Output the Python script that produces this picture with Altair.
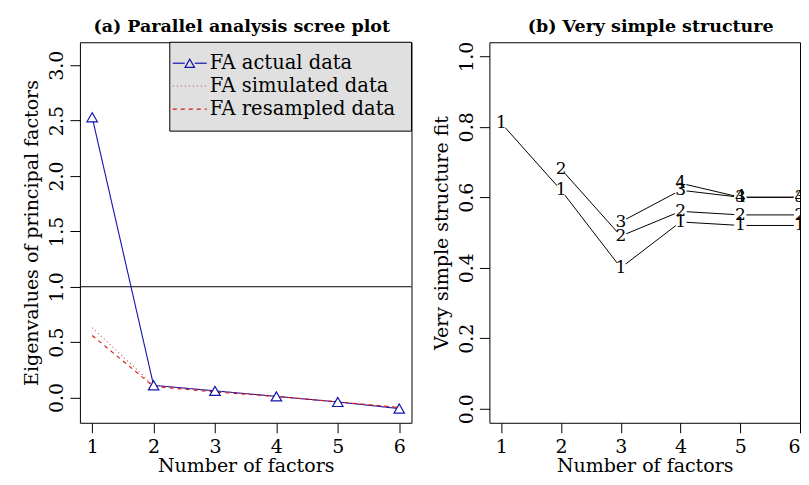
import altair as alt
import pandas as pd

# ---------------- data ----------------
factors = [1, 2, 3, 4, 5, 6]
fa_actual = [2.53, 0.11, 0.06, 0.01, -0.04, -0.10]
fa_simulated = [0.63, 0.11, 0.06, 0.01, -0.04, -0.09]
fa_resampled = [0.56, 0.10, 0.05, 0.01, -0.04, -0.09]
series_names = ["FA actual data", "FA simulated data", "FA resampled data"]
kaiser_line = [1.0]

left_y_ticks = [0.0, 0.5, 1.0, 1.5, 2.0, 2.5, 3.0]
right_y_ticks = [0.0, 0.2, 0.4, 0.6, 0.8, 1.0]

vss_c1 = [0.81, 0.62, 0.40, 0.53, 0.52, 0.52]
vss_c2 = [0.68, 0.49, 0.56, 0.55, 0.55]
vss_c3 = [0.53, 0.62, 0.60, 0.60]
vss_c4 = [0.64, 0.60, 0.60]
vss_labels = ["1", "2", "3", "4"]

# ---------------- styling ----------------
FONT = "DejaVu Serif"
BLUE = "#1414b0"
RED1 = "#e0505a"
RED2 = "#d41414"
SERIES_COLORS = [BLUE, RED1, RED2]
SERIES_DASH = [[1, 0], [1, 3], [4, 4]]

fa_df = pd.DataFrame({
    "factor": factors * 3,
    "value": fa_actual + fa_simulated + fa_resampled,
    "series": [s for s in series_names for _ in factors],
})
act_df = pd.DataFrame({"factor": factors, "value": fa_actual})
rule_df = pd.DataFrame({"y": kaiser_line})

vss_series = [vss_c1, vss_c2, vss_c3, vss_c4]
rows = []
for lab, vals in zip(vss_labels, vss_series):
    start = int(lab)
    for i, v in enumerate(vals):
        rows.append({"factor": start + i, "fit": v, "complexity": lab})
vss_df = pd.DataFrame(rows)

x_scale_l = alt.Scale(domain=[0.8, 6.2], nice=False, zero=False)
y_scale_l = alt.Scale(domain=[-0.228, 3.207], nice=False, zero=False)
# right panel is cut at the right edge of the page in the reference
x_scale_r = alt.Scale(domain=[0.8, 6.0], nice=False, zero=False)
y_scale_r = alt.Scale(domain=[-0.04, 1.04], nice=False, zero=False)


def x_axis(flush=False):
    return alt.Axis(values=factors, format="d", title="Number of factors",
                    labelPadding=5, titlePadding=0, labelFlush=flush)


def y_axis(vals, title):
    return alt.Axis(values=vals, format=".1f", title=title, labelAngle=-90,
                    labelAlign="center", labelBaseline="bottom",
                    labelPadding=3, titlePadding=6)


lines = alt.Chart(fa_df).mark_line(strokeWidth=1.1).encode(
    x=alt.X("factor:Q", scale=x_scale_l, axis=x_axis()),
    y=alt.Y("value:Q", scale=y_scale_l,
            axis=y_axis(left_y_ticks, "Eigenvalues of principal factors")),
    color=alt.Color("series:N", scale=alt.Scale(domain=series_names, range=SERIES_COLORS),
                    legend=None),
    strokeDash=alt.StrokeDash("series:N", scale=alt.Scale(domain=series_names,
                                                          range=SERIES_DASH),
                              legend=None),
)

tri = alt.Chart(act_df).mark_point(shape="triangle-up", filled=True, fill="white",
                                   stroke=BLUE, strokeWidth=1.2, size=110, opacity=1).encode(
    x=alt.X("factor:Q", scale=x_scale_l),
    y=alt.Y("value:Q", scale=y_scale_l),
)

rule = alt.Chart(rule_df).mark_rule(color="black", strokeWidth=1).encode(
    y=alt.Y("y:Q", scale=y_scale_l)
)

# ---- legend box (drawn as decoration in the top-right corner of panel a) ----
one = pd.DataFrame({"k": [0]})
LEG_X0, LEG_X1, LEG_Y0, LEG_Y1 = 90, 332, 0, 89
leg_layers = [
    alt.Chart(one).mark_rect(fill="#e0e0e0", stroke="black", strokeWidth=1).encode(
        x=alt.value(LEG_X0), x2=alt.value(LEG_X1), y=alt.value(LEG_Y0), y2=alt.value(LEG_Y1))
]
for i, (name, col, dash) in enumerate(zip(series_names, SERIES_COLORS, SERIES_DASH)):
    yy = 21 + 23 * i
    df_i = pd.DataFrame({"label": [name]})
    if i == 0:
        leg_layers.append(alt.Chart(df_i).mark_rule(color=col, strokeWidth=1.2).encode(
            x=alt.value(93), x2=alt.value(105), y=alt.value(yy)))
        leg_layers.append(alt.Chart(df_i).mark_rule(color=col, strokeWidth=1.2).encode(
            x=alt.value(115), x2=alt.value(127), y=alt.value(yy)))
        leg_layers.append(alt.Chart(df_i).mark_point(shape="triangle-up", filled=False,
                                                     color=col, strokeWidth=1.2, size=90,
                                                     opacity=1).encode(
            x=alt.value(110), y=alt.value(yy)))
    else:
        leg_layers.append(alt.Chart(df_i).mark_rule(color=col, strokeWidth=1.2,
                                                    strokeDash=dash).encode(
            x=alt.value(93), x2=alt.value(127), y=alt.value(yy)))
    leg_layers.append(alt.Chart(df_i).mark_text(font=FONT, fontSize=19.5, color="black",
                                                align="left", baseline="middle").encode(
        x=alt.value(130), y=alt.value(yy), text="label:N"))

left = alt.layer(rule, lines, tri, *leg_layers).properties(
    width=332, height=381,
    title=alt.TitleParams("(a) Parallel analysis scree plot", dx=-4),
)

vss_lines = alt.Chart(vss_df).mark_line(color="black", strokeWidth=1, clip=True).encode(
    x=alt.X("factor:Q", scale=x_scale_r, axis=x_axis(True)),
    y=alt.Y("fit:Q", scale=y_scale_r, axis=y_axis(right_y_ticks, "Very simple structure fit")),
    detail="complexity:N",
)
vss_gaps = alt.Chart(vss_df).mark_point(filled=True, fill="white", strokeWidth=0,
                                        size=150, opacity=1, clip=True).encode(
    x=alt.X("factor:Q", scale=x_scale_r),
    y=alt.Y("fit:Q", scale=y_scale_r),
)
vss_text = alt.Chart(vss_df).mark_text(font=FONT, fontSize=17, color="black",
                                       clip=True).encode(
    x=alt.X("factor:Q", scale=x_scale_r),
    y=alt.Y("fit:Q", scale=y_scale_r),
    text="complexity:N",
)

right = alt.layer(vss_lines, vss_gaps, vss_text).properties(
    width=311, height=381,
    title=alt.TitleParams("(b) Very simple structure", dx=6),
)

chart = alt.hconcat(left, right, spacing=78, bounds="flush").properties(
    padding={"left": 14, "top": 9, "right": 0, "bottom": 0},
    background="white",
).configure_view(
    stroke="black", strokeWidth=1,
).configure_axis(
    domain=False, grid=False, tickColor="black", tickSize=10, tickWidth=1,
    labelFont=FONT, labelFontSize=19, labelColor="black",
    titleFont=FONT, titleFontSize=19, titleFontWeight="normal", titleColor="black",
).configure_title(
    font=FONT, fontSize=17.5, fontWeight="bold", color="black", anchor="middle", offset=6,
)

chart.save("out.html", embed_options={"renderer": "svg", "actions": False})
